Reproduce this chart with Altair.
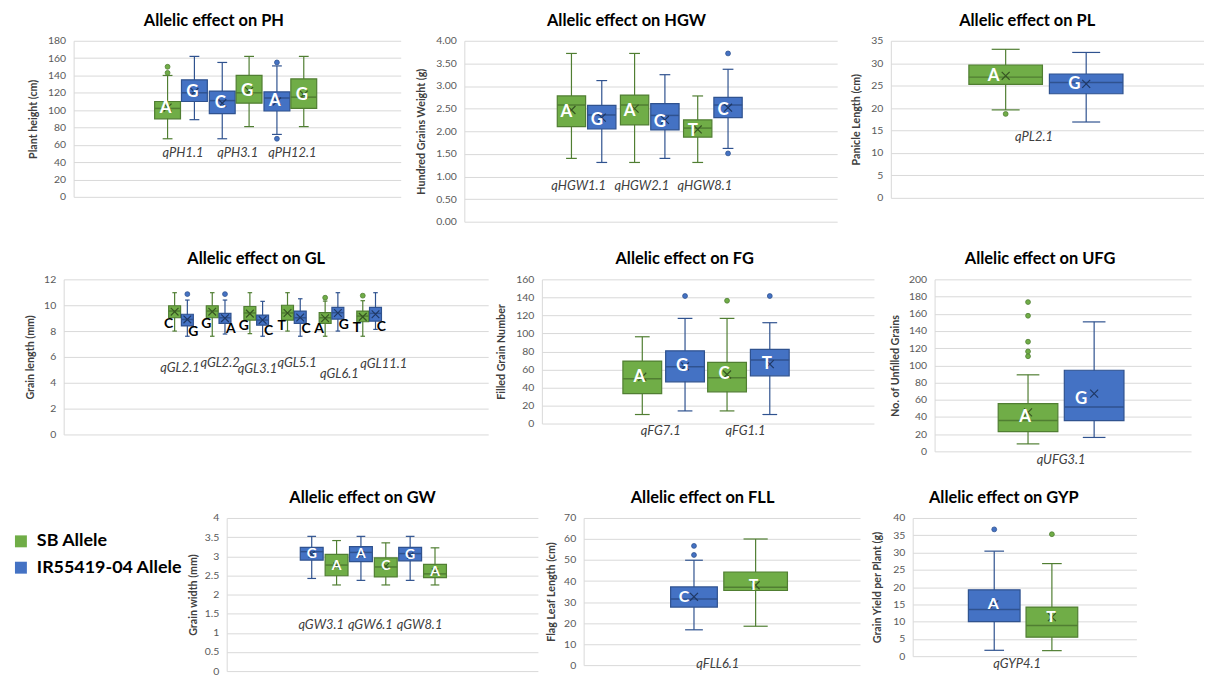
import altair as alt
import pandas as pd

GREEN, GREEN_LINE, GREEN_MARK = "#70AD47", "#507E32", "#375623"
BLUE, BLUE_LINE, BLUE_MARK = "#4472C4", "#2F528F", "#1F3864"
FONT = "Lato"

# ---------------- data ----------------
PH_QTL = ["qPH1.1", "qPH3.1", "qPH12.1"]
PH_ALLELE = ["A", "G", "C", "G", "A", "G"]
PH_PARENT = ["SB", "IR", "IR", "SB", "IR", "SB"]
PH_MIN = [67, 89, 67, 81, 72, 81]
PH_Q1 = [90, 110, 96, 108, 99, 102]
PH_MED = [102, 120, 111, 120, 114, 115]
PH_Q3 = [110, 135, 122, 140, 121, 136]
PH_MAX = [140, 162, 155, 162, 151, 162]
PH_MEAN = [103, 121, 108, 122, 110, 118]
PH_OUT_BOX = [0, 0, 4, 4]
PH_OUT_VAL = [150, 143, 155, 67]

HGW_QTL = ["qHGW1.1", "qHGW2.1", "qHGW8.1"]
HGW_ALLELE = ["A", "G", "A", "G", "T", "C"]
HGW_PARENT = ["SB", "IR", "SB", "IR", "SB", "IR"]
HGW_MIN = [1.40, 1.31, 1.31, 1.40, 1.31, 1.62]
HGW_Q1 = [2.10, 2.05, 2.14, 2.03, 1.87, 2.30]
HGW_MED = [2.58, 2.36, 2.58, 2.35, 2.07, 2.58]
HGW_Q3 = [2.78, 2.57, 2.80, 2.61, 2.25, 2.75]
HGW_MAX = [3.72, 3.12, 3.72, 3.25, 2.78, 3.37]
HGW_MEAN = [2.47, 2.30, 2.50, 2.25, 2.04, 2.52]
HGW_OUT_BOX = [5, 5]
HGW_OUT_VAL = [3.72, 1.51]

PL_QTL = ["qPL2.1"]
PL_ALLELE = ["A", "G"]
PL_PARENT = ["SB", "IR"]
PL_MIN = [19.6, 16.9]
PL_Q1 = [25.3, 23.2]
PL_MED = [26.9, 25.7]
PL_Q3 = [29.6, 27.6]
PL_MAX = [33.1, 32.4]
PL_MEAN = [27.2, 25.4]
PL_OUT_BOX = [0]
PL_OUT_VAL = [18.7]

GL_QTL = ["qGL2.1", "qGL2.2", "qGL3.1", "qGL5.1", "qGL6.1", "qGL11.1"]
GL_ALLELE = ["C", "G", "G", "A", "G", "C", "T", "C", "A", "G", "T", "C"]
GL_PARENT = ["SB", "IR"] * 6
GL_MIN = [8.0, 7.6, 7.6, 7.77, 7.8, 7.6, 8.0, 7.6, 7.6, 8.0, 7.6, 8.13]
GL_Q1 = [9.03, 8.4, 9.03, 8.6, 8.85, 8.46, 8.85, 8.6, 8.6, 8.93, 8.72, 8.77]
GL_MED = [9.55, 8.9, 9.55, 9.03, 9.4, 8.85, 9.4, 9.03, 9.03, 9.42, 9.16, 9.37]
GL_Q3 = [9.96, 9.3, 9.96, 9.37, 9.9, 9.24, 10.0, 9.55, 9.42, 9.83, 9.55, 9.83]
GL_MAX = [10.97, 10.4, 10.97, 10.4, 10.97, 10.3, 10.97, 10.5, 10.32, 10.97, 10.35, 10.97]
GL_MEAN = [9.5, 8.9, 9.5, 9.0, 9.35, 8.85, 9.4, 9.05, 9.0, 9.4, 9.1, 9.3]
GL_OUT_BOX = [1, 3, 8, 10]
GL_OUT_VAL = [10.86, 10.86, 10.58, 10.74]

FG_QTL = ["qFG7.1", "qFG1.1"]
FG_ALLELE = ["A", "G", "C", "T"]
FG_PARENT = ["SB", "IR", "SB", "IR"]
FG_MIN = [10, 14, 14, 10]
FG_Q1 = [33.3, 46.3, 35.2, 53]
FG_MED = [49.6, 63, 50.7, 70.4]
FG_Q3 = [69.3, 80.7, 67.8, 82.2]
FG_MAX = [96.3, 116.7, 116.7, 111.9]
FG_MEAN = [51.9, 63.5, 54.4, 65.9]
FG_OUT_BOX = [1, 2, 3]
FG_OUT_VAL = [141.5, 136.3, 141.5]

UFG_QTL = ["qUFG3.1"]
UFG_ALLELE = ["A", "G"]
UFG_PARENT = ["SB", "IR"]
UFG_MIN = [8.7, 16.2]
UFG_Q1 = [23, 35.8]
UFG_MED = [35.8, 51.7]
UFG_Q3 = [55.5, 94.3]
UFG_MAX = [89, 150.6]
UFG_MEAN = [45.3, 67.2]
UFG_OUT_BOX = [0, 0, 0, 0, 0]
UFG_OUT_VAL = [173.6, 157.7, 127.5, 116.2, 110.6]

GW_QTL = ["qGW3.1", "qGW6.1", "qGW8.1"]
GW_ALLELE = ["G", "A", "A", "C", "G", "A"]
GW_PARENT = ["IR", "SB", "IR", "SB", "IR", "SB"]
GW_MIN = [2.42, 2.25, 2.37, 2.25, 2.37, 2.25]
GW_Q1 = [2.90, 2.49, 2.86, 2.46, 2.88, 2.44]
GW_MED = [3.12, 2.77, 3.10, 2.72, 3.07, 2.54]
GW_Q3 = [3.23, 3.05, 3.25, 2.96, 3.23, 2.79]
GW_MAX = [3.52, 3.41, 3.52, 3.35, 3.52, 3.22]
GW_MEAN = [3.05, 2.75, 3.05, 2.74, 3.02, 2.60]
GW_OUT_BOX = []
GW_OUT_VAL = []

FLL_QTL = ["qFLL6.1"]
FLL_ALLELE = ["C", "T"]
FLL_PARENT = ["IR", "SB"]
FLL_MIN = [16.8, 18.5]
FLL_Q1 = [27.6, 35.5]
FLL_MED = [31.4, 37.0]
FLL_Q3 = [37.2, 44.3]
FLL_MAX = [49.9, 60]
FLL_MEAN = [32.5, 38]
FLL_OUT_BOX = [0, 0]
FLL_OUT_VAL = [56.7, 52.4]

GYP_QTL = ["qGYP4.1"]
GYP_ALLELE = ["A", "T"]
GYP_PARENT = ["IR", "SB"]
GYP_MIN = [1.7, 1.6]
GYP_Q1 = [10.0, 5.5]
GYP_MED = [13.5, 8.9]
GYP_Q3 = [19.2, 14.2]
GYP_MAX = [30.4, 26.8]
GYP_MEAN = [15, 11.3]
GYP_OUT_BOX = [0, 1]
GYP_OUT_VAL = [36.7, 35.3]

LEGEND_LABELS = ["SB Allele", "IR55419-04 Allele"]
LEGEND_PARENT = ["SB", "IR"]

# ---------------- helpers ----------------
FILL_EXPR = f"datum.parent == 'SB' ? '{GREEN}' : '{BLUE}'"
LINE_EXPR = f"datum.parent == 'SB' ? '{GREEN_LINE}' : '{BLUE_LINE}'"
MARK_EXPR = f"datum.parent == 'SB' ? '{GREEN_MARK}' : '{BLUE_MARK}'"
TITLE_OFFSET = 6.5


def panel(title, ytitle, qtl, allele, parent, lo, q1, med, q3, hi, mean,
          out_box, out_val, L):
    n = len(allele)
    u = L["pair"]
    sep = L["sep"] / u
    bw = L["boxw"] if isinstance(L["boxw"], tuple) else (L["boxw"], L["boxw"])
    hwl, hwr = bw[0] / 2 / u, bw[1] / 2 / u
    cwl, cwr = hwl * 0.38, hwr * 0.38
    dom = [-L["c0"] / u, (L["W"] - L["c0"]) / u]
    dxl, dxr = L["ldx"][0] / u, L["ldx"][1] / u

    df = pd.DataFrame({
        "cat": [i // 2 for i in range(n)],
        "side": [i % 2 for i in range(n)],
        "allele": allele, "parent": parent,
        "lo": lo, "q1": q1, "med": med, "q3": q3, "hi": hi, "mean": mean,
    })
    xs = alt.Scale(domain=dom, nice=False, zero=False)
    ys = alt.Scale(domain=[0, L["ymax"]], nice=False, zero=True)
    ticks = [round(L["step"] * k, 4) for k in range(int(round(L["ymax"] / L["step"])) + 1)]
    yaxis = alt.Axis(
        title=ytitle, values=ticks, format=L["fmt"],
        titleFont=FONT, titleFontSize=10.75, titleFontWeight="bold",
        titleColor="#404040", titlePadding=L["tp"],
        labelFont=FONT, labelFontSize=10.5, labelColor="#595959",
        labelPadding=8, ticks=False, domain=True, domainColor="#D9D9D9",
        grid=True, gridColor="#D9D9D9", gridWidth=1,
        minExtent=20, maxExtent=20, labelOverlap=False,
    )

    def X(f):
        return alt.X(f"{f}:Q", scale=xs, axis=None)

    def Y(f):
        return alt.Y(f"{f}:Q", scale=ys, axis=yaxis)

    center = f"(datum.cat + (datum.side - 0.5) * {sep})"
    hw = f"(datum.side == 0 ? {hwl} : {hwr})"
    cw = f"(datum.side == 0 ? {cwl} : {cwr})"
    base = alt.Chart(df).transform_calculate(
        xc=center,
        xa=f"{center} - {hw}", xb=f"{center} + {hw}",
        ca=f"{center} - {cw}", cb=f"{center} + {cw}",
        lx=f"{center} + (datum.side == 0 ? {dxl} : {dxr})",
        ly=f"datum.{L['lfield']}",
        fillc=FILL_EXPR, linec=LINE_EXPR, markc=MARK_EXPR,
    )
    stroke = alt.Stroke("linec:N", scale=None)
    layers = []
    layers.append(base.mark_rule(strokeWidth=1.2).encode(
        x=X("xc"), y=Y("lo"), y2=alt.Y2("hi:Q"), stroke=stroke))
    layers.append(base.mark_rule(strokeWidth=1.2).encode(
        x=X("ca"), x2=alt.X2("cb:Q"), y=Y("lo"), stroke=stroke))
    layers.append(base.mark_rule(strokeWidth=1.2).encode(
        x=X("ca"), x2=alt.X2("cb:Q"), y=Y("hi"), stroke=stroke))
    layers.append(base.mark_rect(strokeWidth=1.2).encode(
        x=X("xa"), x2=alt.X2("xb:Q"), y=Y("q1"), y2=alt.Y2("q3:Q"),
        fill=alt.Fill("fillc:N", scale=None), stroke=stroke))
    layers.append(base.mark_rule(strokeWidth=1.5).encode(
        x=X("xa"), x2=alt.X2("xb:Q"), y=Y("med"), stroke=stroke))
    layers.append(base.mark_point(shape="M-1,-1L1,1M-1,1L1,-1", filled=False,
                                  size=L.get("msize", 64), strokeWidth=1.2, opacity=1).encode(
        x=X("xc"), y=Y("mean"), stroke=alt.Stroke("markc:N", scale=None)))
    if out_box:
        od = pd.DataFrame({
            "cat": [b // 2 for b in out_box], "side": [b % 2 for b in out_box],
            "parent": [parent[b] for b in out_box], "val": out_val,
        })
        layers.append(alt.Chart(od).transform_calculate(
            xc=center, fillc=FILL_EXPR, linec=LINE_EXPR,
        ).mark_circle(size=24, opacity=1, strokeWidth=0.8).encode(
            x=X("xc"), y=Y("val"),
            fill=alt.Fill("fillc:N", scale=None), stroke=stroke))
    layers.append(base.mark_text(font=FONT, fontWeight="bold", fontSize=L["lfs"],
                                 color=L["lcol"], dy=L["ldy"], baseline="middle",
                                 align="center").encode(
        x=X("lx"), y=Y("ly"), text="allele:N"))
    qd = pd.DataFrame({"qtl": qtl, "cat": list(range(len(qtl))),
                       "ly": L["qy"], "dxp": L["qdx"]})
    layers.append(alt.Chart(qd).transform_calculate(
        qx=f"datum.cat + datum.dxp / {u}",
    ).mark_text(font=FONT, fontStyle="italic", fontSize=13, color="#404040",
                baseline="middle", align="center").encode(
        x=X("qx"), y=Y("ly"), text="qtl:N"))

    return alt.layer(*layers).properties(
        width=L["W"], height=L["H"],
        title=alt.TitleParams(text=title, font=FONT, fontSize=16.5, fontWeight="bold",
                              color="#000000", anchor="middle", frame="bounds",
                              offset=TITLE_OFFSET),
    )


def spacer(w):
    return alt.Chart(pd.DataFrame({"s": [0]})).mark_text(
        text=" ", opacity=0, fontSize=1
    ).encode(x=alt.value(w), y=alt.value(0)).properties(width=w, height=1)


WHITE = dict(lfs=17, lcol="#FFFFFF", lfield="mean", ldy=0)

ph = panel("Allelic effect on PH", "Plant height (cm)", PH_QTL, PH_ALLELE, PH_PARENT,
           PH_MIN, PH_Q1, PH_MED, PH_Q3, PH_MAX, PH_MEAN, PH_OUT_BOX, PH_OUT_VAL,
           dict(WHITE, W=329, H=157, pair=55, c0=108, sep=27, boxw=26, ymax=180, step=20,
                fmt="d", tp=15.75, ldx=(-2, -2), qy=[50] * 3, qdx=[2] * 3))
hgw = panel("Allelic effect on HGW", "Hundred Grains Weight (g)", HGW_QTL, HGW_ALLELE,
            HGW_PARENT, HGW_MIN, HGW_Q1, HGW_MED, HGW_Q3, HGW_MAX, HGW_MEAN,
            HGW_OUT_BOX, HGW_OUT_VAL,
            dict(WHITE, W=375, H=182, pair=63.5, c0=123, sep=30.5, boxw=28.5, ymax=4,
                 step=0.5, fmt=".2f", tp=17.75, ldx=(-5, -5), ldy=2,
                 qy=[0.8] * 3, qdx=[-8] * 3))
pl = panel("Allelic effect on PL", "Panicle Length (cm)", PL_QTL, PL_ALLELE, PL_PARENT,
           PL_MIN, PL_Q1, PL_MED, PL_Q3, PL_MAX, PL_MEAN, PL_OUT_BOX, PL_OUT_VAL,
           dict(WHITE, W=315, H=158, pair=162, c0=156, sep=81, boxw=74, ymax=35, step=5,
                fmt="d", tp=9.75, ldx=(-12, -12), qy=[13.6], qdx=[-12]))
gl = panel("Allelic effect on GL", "Grain length (mm)", GL_QTL, GL_ALLELE, GL_PARENT,
           GL_MIN, GL_Q1, GL_MED, GL_Q3, GL_MAX, GL_MEAN, GL_OUT_BOX, GL_OUT_VAL,
           dict(W=427, H=156, pair=37.85, c0=118, sep=12.8, boxw=12, ymax=12, step=2,
                fmt="d", tp=8.75, lfs=14, lcol="#000000", lfield="q1", ldy=6,
                ldx=(-6, 6), msize=60,
                qy=[5.11, 5.5, 5.03, 5.5, 4.65, 5.42], qdx=[-1, 1.5, 1.3, 3.3, 8, 14.7]))
fg = panel("Allelic effect on FG", "Filled Grain Number", FG_QTL, FG_ALLELE, FG_PARENT,
           FG_MIN, FG_Q1, FG_MED, FG_Q3, FG_MAX, FG_MEAN, FG_OUT_BOX, FG_OUT_VAL,
           dict(WHITE, W=334, H=145, pair=85.25, c0=122.5, sep=43, boxw=39, ymax=160,
                step=20, fmt="d", tp=15.75, ldx=(-3, -3),
                qy=[-7.8] * 2, qdx=[-3] * 2))
ufg = panel("Allelic effect on UFG", "No. of Unfilled Grains", UFG_QTL, UFG_ALLELE,
            UFG_PARENT, UFG_MIN, UFG_Q1, UFG_MED, UFG_Q3, UFG_MAX, UFG_MEAN,
            UFG_OUT_BOX, UFG_OUT_VAL,
            dict(WHITE, W=258, H=173, pair=133, c0=127.25, sep=66.5, boxw=60, ymax=200,
                 step=20, fmt="d", tp=14.75, ldx=(-3, -13), ldy=5,
                 qy=[-10.4], qdx=[0]))
gw = panel("Allelic effect on GW", "Grain width (mm)", GW_QTL, GW_ALLELE, GW_PARENT,
           GW_MIN, GW_Q1, GW_MED, GW_Q3, GW_MAX, GW_MEAN, GW_OUT_BOX, GW_OUT_VAL,
           dict(WHITE, W=313, H=154, pair=49.5, c0=98, sep=25, boxw=23, ymax=4, step=0.5,
                fmt=".1~f", tp=8.75, lfs=14, ldx=(0, 0), msize=40,
                qy=[1.2] * 3, qdx=[-3] * 3))
fll = panel("Allelic effect on FLL", "Flag Leaf Length (cm)", FLL_QTL, FLL_ALLELE,
            FLL_PARENT, FLL_MIN, FLL_Q1, FLL_MED, FLL_Q3, FLL_MAX, FLL_MEAN,
            FLL_OUT_BOX, FLL_OUT_VAL,
            dict(WHITE, W=278, H=148, pair=124, c0=142, sep=62, boxw=(47, 64), ymax=70,
                 step=10, fmt="d", tp=7.75, lfs=16, ldx=(-10, -2), qy=[0.47], qdx=[-7]))
gyp = panel("Allelic effect on GYP", "Grain Yield per Plant (g)", GYP_QTL, GYP_ALLELE,
            GYP_PARENT, GYP_MIN, GYP_Q1, GYP_MED, GYP_Q3, GYP_MAX, GYP_MEAN,
            GYP_OUT_BOX, GYP_OUT_VAL,
            dict(WHITE, W=225, H=139, pair=116, c0=111, sep=58, boxw=52, ymax=40, step=5,
                 fmt="d", tp=10.75, lfs=16, ldx=(-1, -1), qy=[-2.3], qdx=[-6]))

leg_df = pd.DataFrame({"label": LEGEND_LABELS, "parent": LEGEND_PARENT})
leg_base = alt.Chart(leg_df).transform_calculate(fillc=FILL_EXPR).encode(
    y=alt.Y("label:N", sort=None, axis=None,
            scale=alt.Scale(range=[23.5, 50], padding=0)))
legend = alt.layer(
    leg_base.mark_square(size=144, opacity=1).encode(
        x=alt.value(13), fill=alt.Fill("fillc:N", scale=None)),
    leg_base.mark_text(align="left", baseline="middle", font=FONT, fontSize=18,
                       fontWeight="bold", color="#000000").encode(
        x=alt.value(29), text="label:N"),
).properties(width=179.75, height=60)

row1 = alt.hconcat(spacer(18.75), ph, spacer(14.75), hgw, spacer(12.75), pl, spacing=0)
row2 = alt.hconcat(spacer(15.75), gl, spacer(6.75), fg, spacer(14.75), ufg, spacing=0)
row3 = alt.hconcat(legend, gw, spacer(6.75), fll, spacer(10.75), gyp, spacing=0)

chart = alt.vconcat(
    alt.vconcat(row1, row2, spacing=24), row3, spacing=23
).properties(
    padding={"left": 0, "top": 3, "right": 0, "bottom": 0}
).configure(font=FONT, background="white").configure_view(
    stroke="transparent", strokeWidth=0)

chart.save("out.html", embed_options={"renderer": "svg", "actions": False})
